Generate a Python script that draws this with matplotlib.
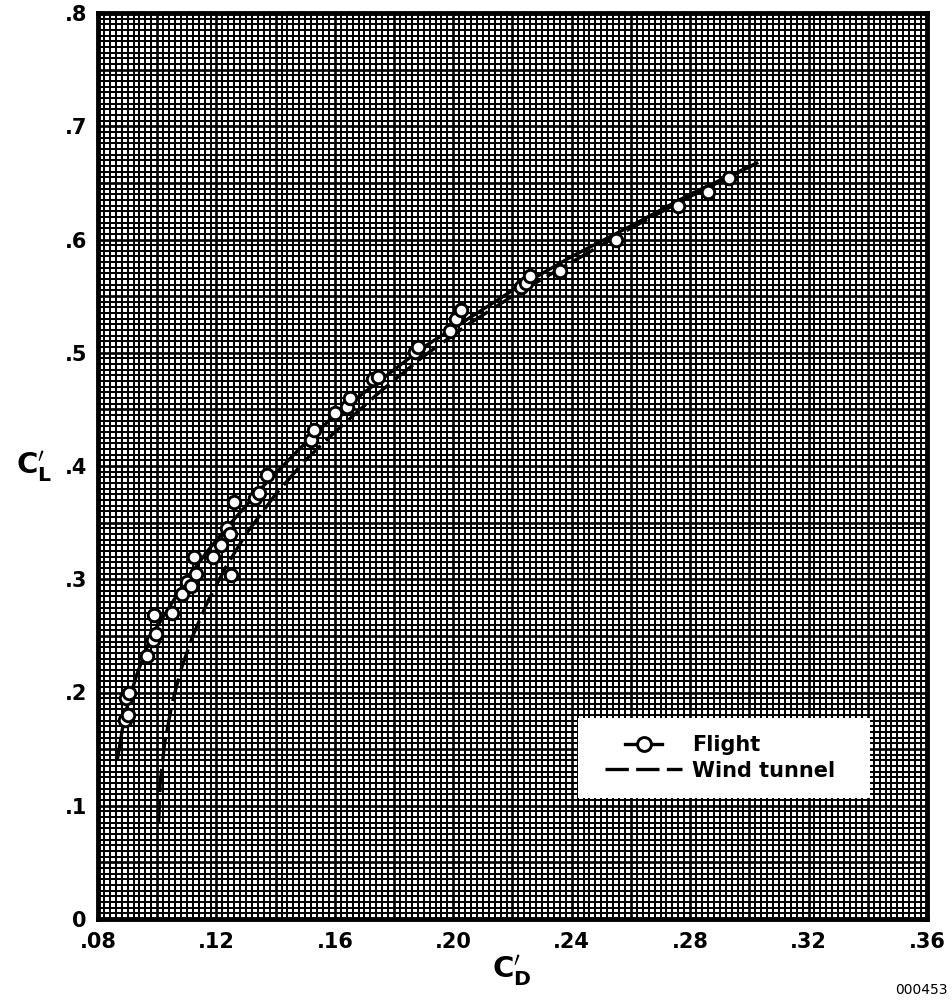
import numpy as np
import matplotlib
matplotlib.use("Agg")
import matplotlib.pyplot as plt
from matplotlib.ticker import MultipleLocator, FuncFormatter
from matplotlib.legend_handler import HandlerLine2D
from matplotlib.patches import Rectangle

# ---- data ----
flight_cd = [0.0890, 0.0900, 0.0895, 0.0905, 0.0965, 0.0985, 0.0995, 0.0990, 0.1050,
             0.1085, 0.1100, 0.1115, 0.1130, 0.1125, 0.1190, 0.1215, 0.1235, 0.1245,
             0.1260, 0.1250, 0.1330, 0.1345, 0.1370, 0.1520, 0.1530, 0.1600, 0.1640,
             0.1650, 0.1730, 0.1745, 0.1870, 0.1880, 0.1990, 0.2010, 0.2025, 0.2230,
             0.2245, 0.2260, 0.2360, 0.2550, 0.2760, 0.2860, 0.2930]
flight_cl = [0.176, 0.180, 0.195, 0.200, 0.232, 0.246, 0.252, 0.268, 0.270,
             0.287, 0.298, 0.294, 0.305, 0.320, 0.320, 0.330, 0.345, 0.340,
             0.368, 0.304, 0.372, 0.376, 0.392, 0.423, 0.432, 0.447, 0.452,
             0.460, 0.477, 0.479, 0.501, 0.505, 0.519, 0.530, 0.538, 0.558,
             0.562, 0.568, 0.572, 0.600, 0.630, 0.642, 0.654]

fair_cd = [0.0865, 0.089, 0.093, 0.098, 0.104, 0.110, 0.117, 0.125, 0.135, 0.148,
           0.160, 0.175, 0.190, 0.205, 0.220, 0.240, 0.260, 0.280, 0.303]
fair_cl = [0.140, 0.180, 0.215, 0.250, 0.275, 0.300, 0.325, 0.350, 0.380, 0.415,
           0.445, 0.475, 0.505, 0.530, 0.555, 0.585, 0.612, 0.640, 0.668]

wt_cd = [0.1005, 0.101, 0.1025, 0.105, 0.108, 0.112, 0.117, 0.123, 0.130, 0.140,
         0.150, 0.160, 0.175, 0.190, 0.205, 0.220, 0.240, 0.260, 0.280, 0.303]
wt_cl = [0.085, 0.120, 0.155, 0.190, 0.220, 0.250, 0.280, 0.310, 0.340, 0.375,
         0.405, 0.430, 0.465, 0.497, 0.525, 0.550, 0.580, 0.610, 0.638, 0.668]

x_ticks = [0.08, 0.12, 0.16, 0.20, 0.24, 0.28, 0.32, 0.36]
x_labels = [".08", ".12", ".16", ".20", ".24", ".28", ".32", ".36"]
y_ticks = [0, 0.1, 0.2, 0.3, 0.4, 0.5, 0.6, 0.7, 0.8]
y_labels = ["0", ".1", ".2", ".3", ".4", ".5", ".6", ".7", ".8"]

# ---- figure ----
W, H = 953, 1001
fig = plt.figure(figsize=(W / 100, H / 100), dpi=100)
ax = fig.add_axes([98 / W, 1 - 919 / H, 829 / W, 906 / H])
ax.set_xlim(0.08, 0.36)
ax.set_ylim(0, 0.8)
ax.set_axisbelow(True)

# graph paper grid
ax.xaxis.set_major_locator(MultipleLocator(0.02))
ax.yaxis.set_major_locator(MultipleLocator(0.05))
ax.xaxis.set_minor_locator(MultipleLocator(0.002))
ax.yaxis.set_minor_locator(MultipleLocator(0.005))
ax.grid(which="minor", color="black", linewidth=1.45)
ax.grid(which="major", color="black", linewidth=1.9)

def xfmt(v, pos):
    for t, l in zip(x_ticks, x_labels):
        if abs(v - t) < 1e-6:
            return l
    return ""

def yfmt(v, pos):
    for t, l in zip(y_ticks, y_labels):
        if abs(v - t) < 1e-6:
            return l
    return ""

ax.xaxis.set_major_formatter(FuncFormatter(xfmt))
ax.yaxis.set_major_formatter(FuncFormatter(yfmt))
ax.tick_params(which="both", length=0)
ax.tick_params(axis="x", pad=9, labelsize=15)
ax.tick_params(axis="y", pad=8, labelsize=15)
for lab in ax.get_xticklabels() + ax.get_yticklabels():
    lab.set_fontweight("bold")

for s in ax.spines.values():
    s.set_linewidth(3.5)
    s.set_color("black")

# curves
ln_flight, = ax.plot(fair_cd, fair_cl, color="black", lw=2.4, zorder=3,
                     solid_capstyle="butt")
ln_wt, = ax.plot(wt_cd, wt_cl, color="black", lw=2.4, zorder=3,
                 dashes=[7, 2.2])
ax.plot(flight_cd, flight_cl, linestyle="none", marker="o", markersize=9,
        markerfacecolor="white", markeredgecolor="black", markeredgewidth=2.1,
        zorder=4)

# legend
leg_flight, = ax.plot([], [], color="black", lw=2.4, marker="o", markersize=10,
                      markerfacecolor="white", markeredgecolor="black",
                      markeredgewidth=2.1)


class ShortHandler(HandlerLine2D):
    def __init__(self, frac, **kw):
        super().__init__(**kw)
        self.frac = frac

    def create_artists(self, legend, orig_handle, xdescent, ydescent, width,
                       height, fontsize, trans):
        w2 = width * self.frac
        return super().create_artists(legend, orig_handle,
                                      xdescent - (width - w2) / 2, ydescent,
                                      w2, height, fontsize, trans)


bx0, by0 = (578 - 98) / 829, (919 - 798) / 906
bw, bh = (870 - 578) / 829, (798 - 718) / 906
ax.add_patch(Rectangle((bx0, by0), bw, bh, transform=ax.transAxes,
                       facecolor="white", edgecolor="none", zorder=5))
leg = ax.legend([leg_flight, ln_wt], ["Flight", "Wind tunnel"],
                loc="center left", bbox_to_anchor=(bx0 + 0.02, by0 + bh / 2),
                frameon=False, numpoints=1, handlelength=3.7,
                handletextpad=0.5, labelspacing=0.25, borderpad=0.0,
                prop={"weight": "bold", "size": 15},
                handler_map={leg_flight: ShortHandler(0.48)})
leg.set_zorder(6)

# axis labels
fig.text(34 / W, 1 - 467 / H, r"$\mathbf{C}_{\mathbf{L}}^{\prime}$",
         fontsize=21, ha="center", va="center")
fig.text(512 / W, 1 - 972 / H, r"$\mathbf{C}_{\mathbf{D}}^{\prime}$",
         fontsize=21, ha="center", va="center")
fig.text(921 / W, 1 - 990 / H, "000453", fontsize=10, ha="center",
         va="center")

fig.savefig("out.png", dpi=100, facecolor="white")
